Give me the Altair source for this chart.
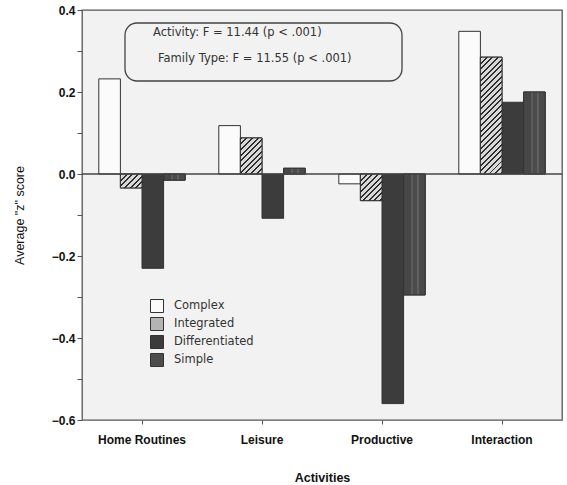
import math
import altair as alt
import pandas as pd

# Average z-scores by activity and family type
activities = ["Home Routines", "Leisure", "Productive", "Interaction"]
families = ["Complex", "Integrated", "Differentiated", "Simple"]
complex_scores = [0.232, 0.118, -0.024, 0.348]
integrated_scores = [-0.034, 0.088, -0.065, 0.285]
differentiated_scores = [-0.230, -0.108, -0.560, 0.175]
simple_scores = [-0.015, 0.014, -0.295, 0.200]
stat_lines = [
    "Activity: F = 11.44 (p < .001)",
    "Family Type: F = 11.55 (p < .001)",
]

series = dict(zip(families, [complex_scores, integrated_scores,
                             differentiated_scores, simple_scores]))
df = pd.DataFrame([
    {"activity": act, "family": fam, "score": series[fam][i]}
    for i, act in enumerate(activities) for fam in families
])

PLOT_W, PLOT_H = 480, 410
Y_DOMAIN = [-0.6, 0.4]
PX_PER_UNIT = PLOT_H / (Y_DOMAIN[1] - Y_DOMAIN[0])
BAR_W = PLOT_W / (4 - 0.28 + 2 * 0.14) * 0.72 / 4


def hatch_fill(value, period=4.0, line=1.4, dark="#2e2e2e", light="#d9d9d9"):
    """Diagonal '///' hatch as a sharp-stop linear gradient sized to the bar."""
    w, h = BAR_W, max(abs(value) * PX_PER_UNIT, 1.0)
    length = (w + h) / math.sqrt(2)
    k = (w + h) / (w * w + h * h)
    n = int(math.ceil(length / period)) + 1
    stops = []
    for i in range(n):
        a = min(i * period / length, 1.0)
        b = min((i * period + line) / length, 1.0)
        c = min((i + 1) * period / length, 1.0)
        stops += [
            {"offset": a, "color": dark},
            {"offset": b, "color": dark},
            {"offset": b, "color": light},
            {"offset": c, "color": light},
        ]
        if c >= 1.0:
            break
    return alt.LinearGradient(
        gradient="linear", x1=0, y1=0, x2=k * w, y2=k * h, stops=stops
    )


simple_texture = alt.LinearGradient(
    gradient="linear", x1=0, y1=0, x2=1, y2=0,
    stops=[
        {"offset": 0.0, "color": "#474747"},
        {"offset": 0.35, "color": "#474747"},
        {"offset": 0.35, "color": "#5c5c5c"},
        {"offset": 0.45, "color": "#5c5c5c"},
        {"offset": 0.45, "color": "#4c4c4c"},
        {"offset": 0.6, "color": "#4c4c4c"},
        {"offset": 0.6, "color": "#606060"},
        {"offset": 0.7, "color": "#606060"},
        {"offset": 0.7, "color": "#4a4a4a"},
        {"offset": 1.0, "color": "#4a4a4a"},
    ],
)

x_enc = alt.X(
    "activity:N", sort=activities,
    scale=alt.Scale(domain=activities, paddingInner=0.28, paddingOuter=0.14),
    axis=alt.Axis(title="Activities", labelAngle=0, tickSize=4,
                  labelPadding=10, titlePadding=26, domain=False),
)
xoff_enc = alt.XOffset(
    "family:N", sort=families,
    scale=alt.Scale(domain=families, paddingInner=0, paddingOuter=0),
)
y_enc = alt.Y(
    "score:Q",
    scale=alt.Scale(domain=Y_DOMAIN, nice=False, zero=True),
    axis=alt.Axis(
        title='Average "z" score',
        values=[-0.6, -0.5, -0.4, -0.3, -0.2, -0.1, 0.0, 0.1, 0.2, 0.3, 0.4],
        labelExpr="abs(round(datum.value * 10)) % 2 == 0 ? format(datum.value, '.1f') : ''",
        tickSize=5, grid=False, titlePadding=25, titleFontWeight="normal",
        domain=False,
    ),
)

bars = alt.Chart(df).mark_bar(stroke="#333333", strokeWidth=1).encode(
    x=x_enc, xOffset=xoff_enc, y=y_enc,
    color=alt.Color(
        "family:N", sort=families,
        scale=alt.Scale(domain=families,
                        range=["#fbfbfb", "#b4b4b4", "#3c3c3c", "#4c4c4c"]),
        legend=alt.Legend(title=None, orient="none", legendX=68, legendY=289,
                          symbolType="square", symbolSize=169,
                          symbolStrokeColor="#333333", symbolStrokeWidth=1,
                          symbolOpacity=1, labelFont="DejaVu Sans",
                          labelFontSize=11.5, labelFontWeight="normal",
                          labelColor="#333333", rowPadding=0,
                          labelOffset=10),
    ),
)

# Hatched overlays for the Integrated bars, one per activity
hatch_layers = [
    alt.Chart(df).transform_filter(
        f"datum.family == 'Integrated' && datum.activity == '{act}'"
    ).mark_bar(fill=hatch_fill(integrated_scores[i]), stroke="#333333",
               strokeWidth=1).encode(x=x_enc, xOffset=xoff_enc, y=y_enc)
    for i, act in enumerate(activities)
]

simple_layer = alt.Chart(df).transform_filter(
    "datum.family == 'Simple'"
).mark_bar(fill=simple_texture, stroke="#333333", strokeWidth=1).encode(
    x=x_enc, xOffset=xoff_enc, y=y_enc
)

zero_rule = alt.Chart(pd.DataFrame({"z": [0.0]})).mark_rule(
    color="#444444", strokeWidth=1.3
).encode(y=alt.Y("z:Q"))

note = pd.DataFrame({"line": stat_lines, "i": [0, 1]})
note_box = alt.Chart(pd.DataFrame({"k": [0]})).mark_rect(
    cornerRadius=12, fillOpacity=0, stroke="#444444", strokeWidth=1.3
).encode(x=alt.value(43), x2=alt.value(320), y=alt.value(13), y2=alt.value(71))
note_text = alt.Chart(note).mark_text(
    align="left", baseline="middle", font="DejaVu Sans", fontSize=11.5,
    color="#333333",
).encode(
    text="line:N",
    x=alt.value(71),
    y=alt.value(23),
).transform_filter("datum.i == 0")
note_text2 = alt.Chart(note).mark_text(
    align="left", baseline="middle", font="DejaVu Sans", fontSize=11.5,
    color="#333333",
).encode(
    text="line:N",
    x=alt.value(76),
    y=alt.value(49),
).transform_filter("datum.i == 1")

chart = alt.layer(
    bars, *hatch_layers, simple_layer, zero_rule, note_box, note_text, note_text2
).properties(
    width=PLOT_W, height=PLOT_H,
    autosize=alt.AutoSizeParams(type="none"),
    padding={"left": 82, "top": 10, "right": 5, "bottom": 65},
    background="#ffffff",
).configure_view(
    stroke="#555555", strokeWidth=1.3, fill="#f2f2f2"
).configure_axis(
    labelFont="Liberation Sans", labelFontSize=12, labelFontWeight="bold",
    labelColor="#111111", titleFont="Liberation Sans", titleFontSize=12.5,
    titleColor="#111111", tickColor="#555555", domainColor="#555555",
).configure_axisX(
    titleFontWeight="bold",
)

chart.save("out.html", embed_options={"renderer": "svg", "actions": False})
